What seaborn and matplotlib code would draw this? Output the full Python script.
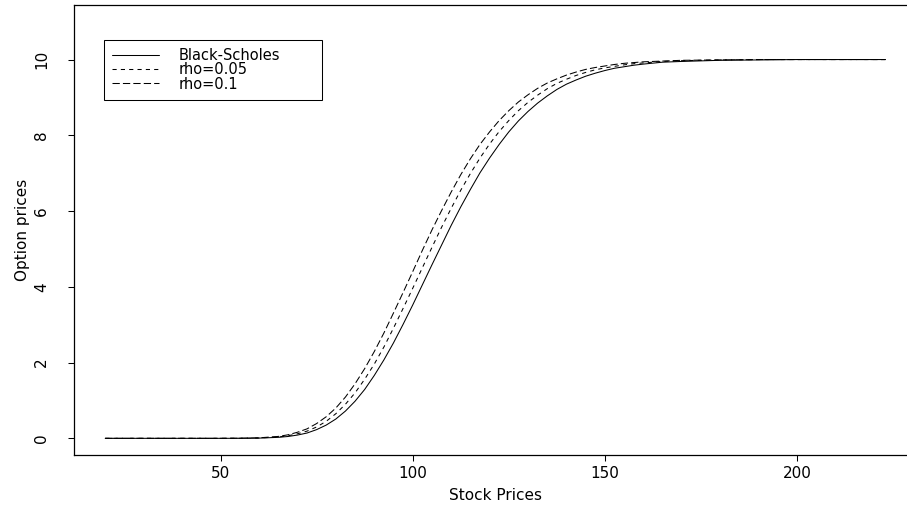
import numpy as np
import pandas as pd
import matplotlib
matplotlib.use("Agg")
import matplotlib.pyplot as plt
import seaborn as sns

# stock prices (x) and option prices
stock = [20, 30, 40, 50, 55, 60,
         65, 67.5, 70, 72.5, 75, 77.5, 80, 82.5, 85, 87.5,
         90, 92.5, 95, 97.5, 100, 102.5, 105, 107.5, 110, 112.5,
         115, 117.5, 120, 122.5, 125, 127.5, 130, 132.5, 135, 137.5,
         140, 142.5, 145, 147.5, 150, 152.5, 155, 157.5, 160,
         165, 170, 180, 190, 200, 210, 223]
black_scholes = [0.0, 0.0, 0.0, 0.0, 0.001, 0.006,
                 0.026, 0.048, 0.086, 0.14, 0.23, 0.35, 0.51, 0.72, 0.98, 1.29,
                 1.66, 2.07, 2.52, 3.01, 3.52, 4.05, 4.58, 5.10, 5.62, 6.11,
                 6.57, 7.01, 7.40, 7.76, 8.09, 8.38, 8.63, 8.85, 9.04, 9.21,
                 9.35, 9.46, 9.56, 9.64, 9.71, 9.77, 9.81, 9.85, 9.88,
                 9.93, 9.95, 9.98, 9.99, 10.0, 10.0, 10.0]
rho_005 = [0.0, 0.0, 0.0, 0.0, 0.002, 0.009,
           0.036, 0.067, 0.12, 0.19, 0.30, 0.45, 0.65, 0.90, 1.20, 1.56,
           1.96, 2.41, 2.91, 3.43, 3.96, 4.50, 5.04, 5.57, 6.07, 6.55,
           6.99, 7.40, 7.77, 8.10, 8.39, 8.65, 8.87, 9.06, 9.23, 9.37,
           9.48, 9.58, 9.66, 9.73, 9.78, 9.82, 9.86, 9.89, 9.91,
           9.95, 9.97, 9.99, 10.0, 10.0, 10.0, 10.0]
rho_01 = [0.0, 0.0, 0.0, 0.0, 0.003, 0.013,
          0.05, 0.092, 0.16, 0.25, 0.39, 0.57, 0.80, 1.09, 1.44, 1.84,
          2.29, 2.78, 3.31, 3.85, 4.40, 4.96, 5.50, 6.01, 6.50, 6.96,
          7.38, 7.76, 8.09, 8.39, 8.65, 8.88, 9.07, 9.24, 9.38, 9.49,
          9.59, 9.67, 9.74, 9.79, 9.83, 9.87, 9.90, 9.92, 9.94,
          9.96, 9.98, 9.99, 10.0, 10.0, 10.0, 10.0]
series_names = ["Black-Scholes", "rho=0.05", "rho=0.1"]

df = pd.concat([
    pd.DataFrame({"S": stock, "price": black_scholes, "series": series_names[0]}),
    pd.DataFrame({"S": stock, "price": rho_005, "series": series_names[1]}),
    pd.DataFrame({"S": stock, "price": rho_01, "series": series_names[2]}),
])

sns.set_style("ticks")
plt.rcParams["font.family"] = ["DejaVu Sans"]
plt.rcParams["font.size"] = 11
plt.rcParams["text.color"] = "black"
plt.rcParams["axes.labelcolor"] = "black"
plt.rcParams["xtick.color"] = "black"
plt.rcParams["ytick.color"] = "black"

fig = plt.figure(figsize=(9.07, 5.11), dpi=100)
ax = fig.add_axes([74 / 907, 56 / 511, 842.7 / 907, 450 / 511])

sns.lineplot(
    data=df, x="S", y="price", style="series",
    dashes={"Black-Scholes": "", "rho=0.05": (4, 4), "rho=0.1": (7, 3)},
    color="black", linewidth=0.75, ax=ax, sort=False
)

ax.set_xlim(11.88, 231.12)
ax.set_ylim(-0.44, 11.44)
ax.set_xticks([50, 100, 150, 200])
ax.set_yticks([0, 2, 4, 6, 8, 10])
ax.set_xlabel("Stock Prices", fontsize=11, labelpad=5)
ax.set_ylabel("Option prices", fontsize=11, labelpad=3)
for lab in ax.get_yticklabels():
    lab.set_rotation(90)
    lab.set_va("center")
ax.tick_params(axis="both", direction="out", length=4, width=0.75,
               color="black", labelsize=11)
ax.tick_params(axis="x", pad=4)
ax.tick_params(axis="y", pad=14)
for sp in ax.spines.values():
    sp.set_visible(True)
    sp.set_color("black")
    sp.set_linewidth(0.9)

handles, labels = ax.get_legend_handles_labels()
ax.legend(handles, labels, loc="upper left",
          bbox_to_anchor=((104 - 74) / 842.7, (455 - 97) / 450,
                          218 / 842.7, 57 / 450),
          mode="expand", borderaxespad=0, frameon=True, fancybox=False,
          edgecolor="black", fontsize=10.5, handlelength=3.2,
          handletextpad=1.4, borderpad=0.55, labelspacing=-0.05,
          framealpha=1)
ax.get_legend().get_frame().set_linewidth(0.75)

fig.savefig("out.png", dpi=100)
